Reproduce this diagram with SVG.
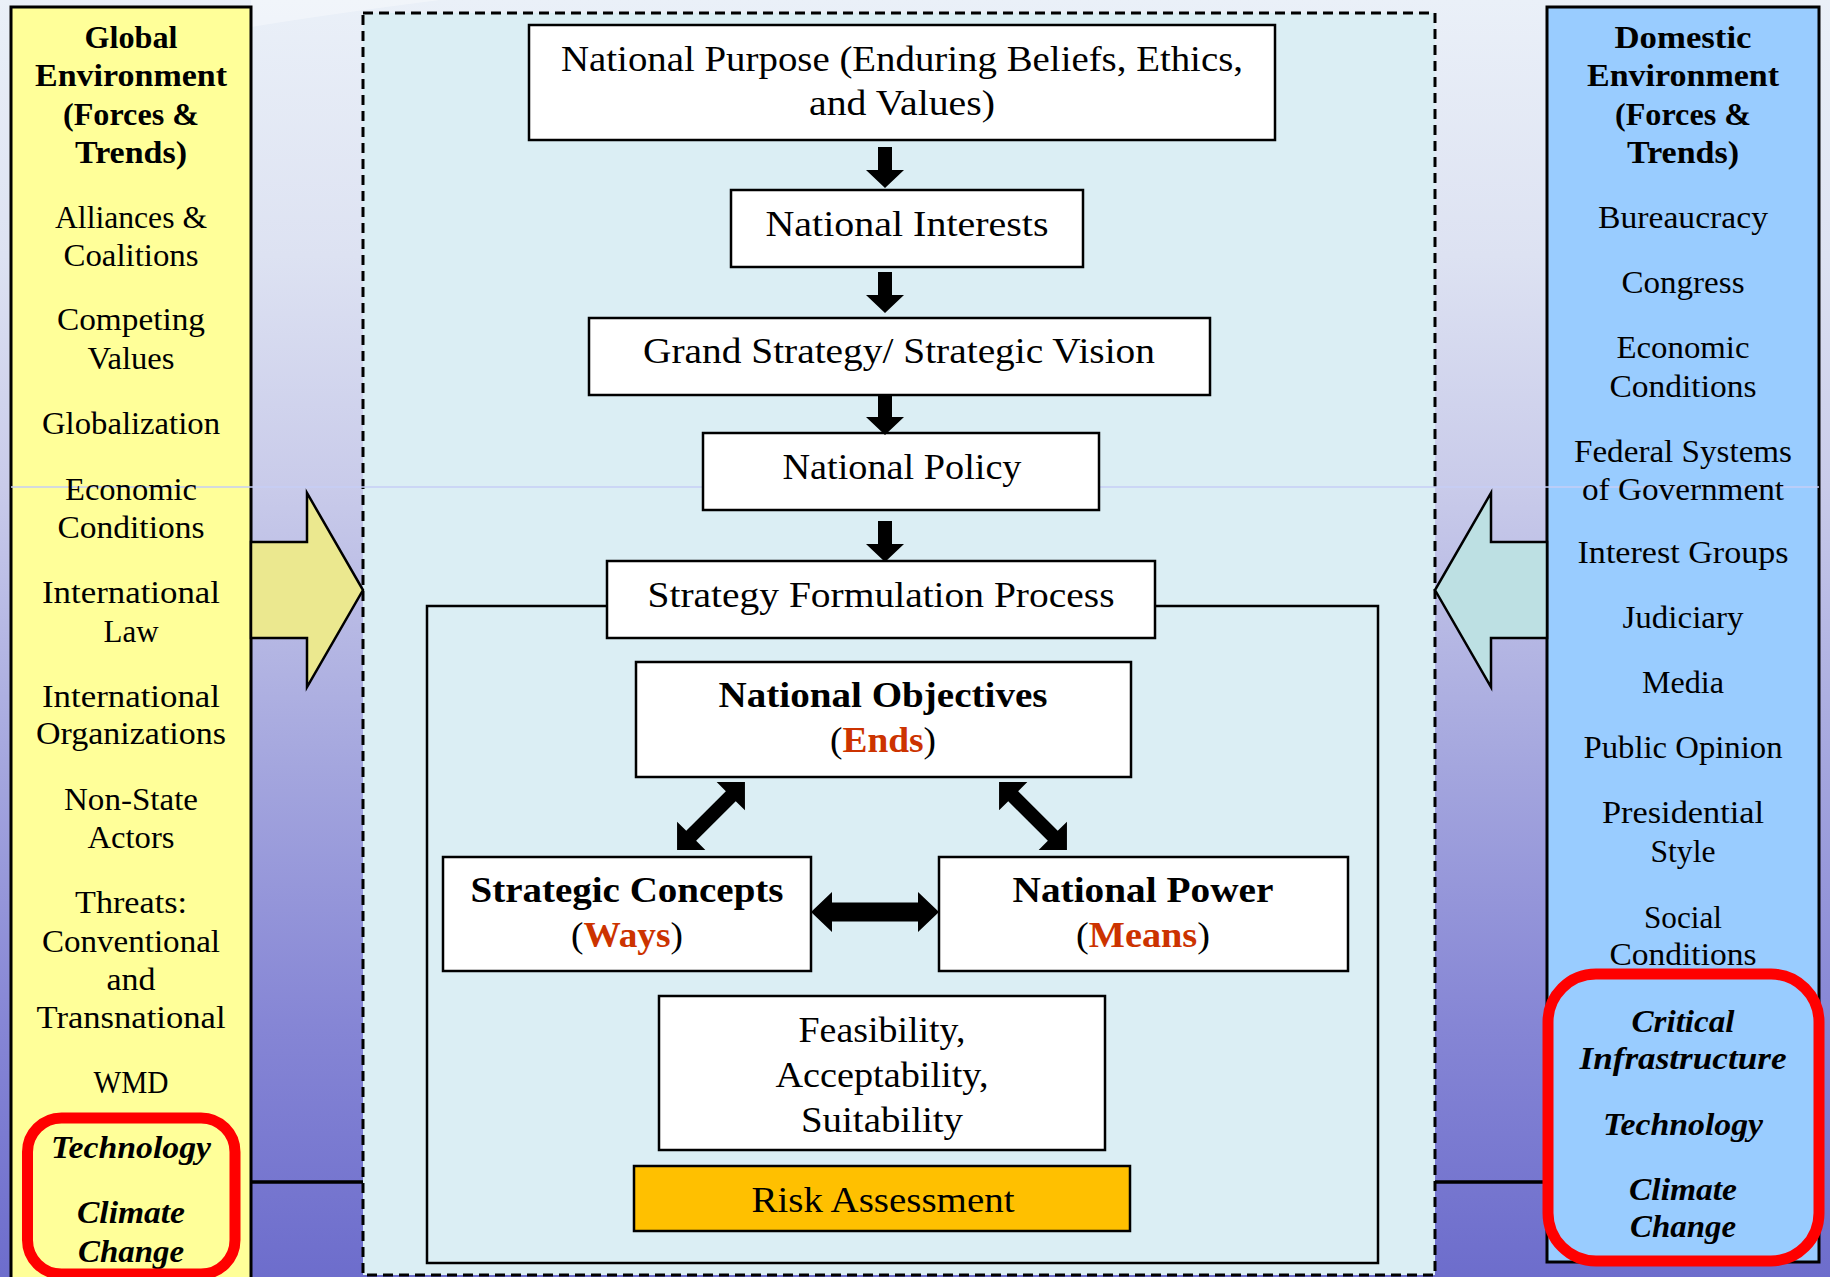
<svg xmlns="http://www.w3.org/2000/svg" width="1830" height="1277" viewBox="0 0 1830 1277">
<defs>
<linearGradient id="bg" x1="0" y1="0" x2="0" y2="1">
<stop offset="0" stop-color="#eaf0f8"/>
<stop offset="0.2" stop-color="#dde2f2"/>
<stop offset="0.38" stop-color="#c9cbea"/>
<stop offset="0.6" stop-color="#a4a6de"/>
<stop offset="0.8" stop-color="#8686d5"/>
<stop offset="1" stop-color="#6d6dcc"/>
</linearGradient>
<style>
.side{font-family:"Liberation Serif","DejaVu Serif",serif;font-size:32px;text-anchor:middle;fill:#000}
.hdr{font-weight:bold}
.hl{font-weight:bold;font-style:italic}
.ctr{font-family:"Liberation Serif","DejaVu Serif",serif;font-size:36px;text-anchor:middle;fill:#000}
.b{font-weight:bold}
.red{fill:#cc3300;font-weight:bold}
.box{fill:#fff;stroke:#000;stroke-width:2.5}
.blk{fill:#000}
.redbox{fill:none;stroke:#ff0000;stroke-width:11}
.panel{stroke:#000;stroke-width:3}
.big{stroke:#000;stroke-width:2.5;stroke-linejoin:miter}
</style>
</defs>

<rect x="0" y="0" width="1830" height="1277" fill="url(#bg)"/>
<path d="M251,27 Q330,14 440,0 L251,0 Z" fill="#ffffff" opacity="0.35"/>

<g id="center-frame">
<rect x="363" y="13" width="1072" height="1262" fill="#dbeef4" stroke="#000" stroke-width="3" stroke-dasharray="10,6"/>
</g>

<g id="global-env-panel">
<rect class="panel" x="11" y="7" width="240" height="1290" fill="#ffff99"/>
</g>
<g id="domestic-env-panel">
<rect class="panel" x="1547" y="7" width="272" height="1255" fill="#99ccff"/>
</g>

<line x1="11" y1="487" x2="1819" y2="487" stroke="#c6cef6" stroke-width="1.5"/>

<g id="connectors">
<polygon class="big" points="251,542 307,542 307,493 363,590 307,687 307,638 251,638" fill="#ebe88f"/>
<polygon class="big" points="1547,542 1491,542 1491,493 1435,590 1491,687 1491,638 1547,638" fill="#bde0e3"/>
<line x1="251" y1="1182" x2="363" y2="1182" stroke="#000" stroke-width="3.5"/>
<line x1="1435" y1="1182" x2="1545" y2="1182" stroke="#000" stroke-width="3.5"/>
</g>

<g id="strategy-frame">
<rect x="427" y="606" width="951" height="657" fill="none" stroke="#000" stroke-width="2.5"/>
</g>

<g id="national-purpose">
<rect class="box" x="529" y="25" width="746" height="115"/>
<text class="ctr" x="902" y="71" textLength="682" lengthAdjust="spacingAndGlyphs">National Purpose (Enduring Beliefs, Ethics,</text>
<text class="ctr" x="902" y="115" textLength="186" lengthAdjust="spacingAndGlyphs">and Values)</text>
</g>
<g id="national-interests">
<rect class="box" x="731" y="190" width="352" height="77"/>
<text class="ctr" x="907" y="236" textLength="283" lengthAdjust="spacingAndGlyphs">National Interests</text>
</g>
<g id="grand-strategy">
<rect class="box" x="589" y="318" width="621" height="77"/>
<text class="ctr" x="899" y="363" textLength="512" lengthAdjust="spacingAndGlyphs">Grand Strategy/ Strategic Vision</text>
</g>
<g id="national-policy">
<rect class="box" x="703" y="433" width="396" height="77"/>
<text class="ctr" x="902" y="479" textLength="239" lengthAdjust="spacingAndGlyphs">National Policy</text>
</g>
<g id="strategy-formulation">
<rect class="box" x="607" y="561" width="548" height="77"/>
<text class="ctr" x="881" y="607" textLength="467" lengthAdjust="spacingAndGlyphs">Strategy Formulation Process</text>
</g>
<g id="national-objectives">
<rect class="box" x="636" y="662" width="495" height="115"/>
<text class="ctr b" x="883" y="707" textLength="329" lengthAdjust="spacingAndGlyphs">National Objectives</text>
<text class="ctr" x="883" y="752" textLength="106" lengthAdjust="spacingAndGlyphs">(<tspan class="red">Ends</tspan>)</text>
</g>
<g id="strategic-concepts">
<rect class="box" x="443" y="857" width="368" height="114"/>
<text class="ctr b" x="627" y="902" textLength="313" lengthAdjust="spacingAndGlyphs">Strategic Concepts</text>
<text class="ctr" x="627" y="947" textLength="112" lengthAdjust="spacingAndGlyphs">(<tspan class="red">Ways</tspan>)</text>
</g>
<g id="national-power">
<rect class="box" x="939" y="857" width="409" height="114"/>
<text class="ctr b" x="1143" y="902" textLength="261" lengthAdjust="spacingAndGlyphs">National Power</text>
<text class="ctr" x="1143" y="947" textLength="134" lengthAdjust="spacingAndGlyphs">(<tspan class="red">Means</tspan>)</text>
</g>
<g id="feasibility">
<rect class="box" x="659" y="996" width="446" height="154"/>
<text class="ctr" x="882" y="1042" textLength="167" lengthAdjust="spacingAndGlyphs">Feasibility,</text>
<text class="ctr" x="882" y="1087" textLength="213" lengthAdjust="spacingAndGlyphs">Acceptability,</text>
<text class="ctr" x="882" y="1132" textLength="162" lengthAdjust="spacingAndGlyphs">Suitability</text>
</g>
<g id="risk-assessment">
<rect x="634" y="1166" width="496" height="65" fill="#ffc000" stroke="#000" stroke-width="2.5"/>
<text class="ctr" x="883" y="1212" textLength="263" lengthAdjust="spacingAndGlyphs">Risk Assessment</text>
</g>

<g id="flow-arrows">
<polygon class="blk" points="878,147 892,147 892,170 904,170 885,188 866,170 878,170"/>
<polygon class="blk" points="878,272 892,272 892,295 904,295 885,313 866,295 878,295"/>
<polygon class="blk" points="878,396 892,396 892,417 904,417 885,435 866,417 878,417"/>
<polygon class="blk" points="878,521 892,521 892,544 904,544 885,562 866,544 878,544"/>
<polygon class="blk" transform="translate(711,816) rotate(-45)" points="48,0 28,-20 28,-7 -28,-7 -28,-20 -48,0 -28,20 -28,7 28,7 28,20"/>
<polygon class="blk" transform="translate(1033,816) rotate(45)" points="48,0 28,-20 28,-7 -28,-7 -28,-20 -48,0 -28,20 -28,7 28,7 28,20"/>
<polygon class="blk" transform="translate(875,912)" points="64,0 43,-20 43,-9.5 -43,-9.5 -43,-20 -64,0 -43,20 -43,9.5 43,9.5 43,20"/>
</g>

<g id="global-env-text">
<text class="side hdr" x="131" y="48" textLength="93" lengthAdjust="spacingAndGlyphs">Global</text>
<text class="side hdr" x="131" y="86" textLength="192" lengthAdjust="spacingAndGlyphs">Environment</text>
<text class="side hdr" x="131" y="125" textLength="136" lengthAdjust="spacingAndGlyphs">(Forces &amp;</text>
<text class="side hdr" x="131" y="163" textLength="112" lengthAdjust="spacingAndGlyphs">Trends)</text>
<text class="side" x="131" y="228" textLength="152" lengthAdjust="spacingAndGlyphs">Alliances &amp;</text>
<text class="side" x="131" y="266" textLength="135" lengthAdjust="spacingAndGlyphs">Coalitions</text>
<text class="side" x="131" y="330" textLength="148" lengthAdjust="spacingAndGlyphs">Competing</text>
<text class="side" x="131" y="369" textLength="87" lengthAdjust="spacingAndGlyphs">Values</text>
<text class="side" x="131" y="434" textLength="178" lengthAdjust="spacingAndGlyphs">Globalization</text>
<text class="side" x="131" y="500" textLength="132" lengthAdjust="spacingAndGlyphs">Economic</text>
<text class="side" x="131" y="538" textLength="147" lengthAdjust="spacingAndGlyphs">Conditions</text>
<text class="side" x="131" y="603" textLength="178" lengthAdjust="spacingAndGlyphs">International</text>
<text class="side" x="131" y="642" textLength="55" lengthAdjust="spacingAndGlyphs">Law</text>
<text class="side" x="131" y="707" textLength="178" lengthAdjust="spacingAndGlyphs">International</text>
<text class="side" x="131" y="744" textLength="190" lengthAdjust="spacingAndGlyphs">Organizations</text>
<text class="side" x="131" y="810" textLength="134" lengthAdjust="spacingAndGlyphs">Non-State</text>
<text class="side" x="131" y="848" textLength="87" lengthAdjust="spacingAndGlyphs">Actors</text>
<text class="side" x="131" y="913" textLength="112" lengthAdjust="spacingAndGlyphs">Threats:</text>
<text class="side" x="131" y="952" textLength="178" lengthAdjust="spacingAndGlyphs">Conventional</text>
<text class="side" x="131" y="990" textLength="49" lengthAdjust="spacingAndGlyphs">and</text>
<text class="side" x="131" y="1028" textLength="189" lengthAdjust="spacingAndGlyphs">Transnational</text>
<text class="side" x="131" y="1093" textLength="75" lengthAdjust="spacingAndGlyphs">WMD</text>
<text class="side hl" x="131" y="1158" textLength="160" lengthAdjust="spacingAndGlyphs">Technology</text>
<text class="side hl" x="131" y="1223" textLength="108" lengthAdjust="spacingAndGlyphs">Climate</text>
<text class="side hl" x="131" y="1262" textLength="106" lengthAdjust="spacingAndGlyphs">Change</text>
<rect class="redbox" x="27.5" y="1118" width="207.5" height="156" rx="34"/>
</g>

<g id="domestic-env-text">
<text class="side hdr" x="1683" y="48" textLength="137" lengthAdjust="spacingAndGlyphs">Domestic</text>
<text class="side hdr" x="1683" y="86" textLength="192" lengthAdjust="spacingAndGlyphs">Environment</text>
<text class="side hdr" x="1683" y="125" textLength="136" lengthAdjust="spacingAndGlyphs">(Forces &amp;</text>
<text class="side hdr" x="1683" y="163" textLength="112" lengthAdjust="spacingAndGlyphs">Trends)</text>
<text class="side" x="1683" y="228" textLength="170" lengthAdjust="spacingAndGlyphs">Bureaucracy</text>
<text class="side" x="1683" y="293" textLength="123" lengthAdjust="spacingAndGlyphs">Congress</text>
<text class="side" x="1683" y="358" textLength="133" lengthAdjust="spacingAndGlyphs">Economic</text>
<text class="side" x="1683" y="397" textLength="147" lengthAdjust="spacingAndGlyphs">Conditions</text>
<text class="side" x="1683" y="462" textLength="218" lengthAdjust="spacingAndGlyphs">Federal Systems</text>
<text class="side" x="1683" y="500" textLength="202" lengthAdjust="spacingAndGlyphs">of Government</text>
<text class="side" x="1683" y="563" textLength="211" lengthAdjust="spacingAndGlyphs">Interest Groups</text>
<text class="side" x="1683" y="628" textLength="121" lengthAdjust="spacingAndGlyphs">Judiciary</text>
<text class="side" x="1683" y="693" textLength="82" lengthAdjust="spacingAndGlyphs">Media</text>
<text class="side" x="1683" y="758" textLength="199" lengthAdjust="spacingAndGlyphs">Public Opinion</text>
<text class="side" x="1683" y="823" textLength="162" lengthAdjust="spacingAndGlyphs">Presidential</text>
<text class="side" x="1683" y="862" textLength="65" lengthAdjust="spacingAndGlyphs">Style</text>
<text class="side" x="1683" y="928" textLength="78" lengthAdjust="spacingAndGlyphs">Social</text>
<text class="side" x="1683" y="965" textLength="147" lengthAdjust="spacingAndGlyphs">Conditions</text>
<text class="side hl" x="1683" y="1032" textLength="103" lengthAdjust="spacingAndGlyphs">Critical</text>
<text class="side hl" x="1683" y="1069" textLength="207" lengthAdjust="spacingAndGlyphs">Infrastructure</text>
<text class="side hl" x="1683" y="1135" textLength="160" lengthAdjust="spacingAndGlyphs">Technology</text>
<text class="side hl" x="1683" y="1200" textLength="108" lengthAdjust="spacingAndGlyphs">Climate</text>
<text class="side hl" x="1683" y="1237" textLength="106" lengthAdjust="spacingAndGlyphs">Change</text>
<rect class="redbox" x="1548" y="974" width="271" height="287" rx="48"/>
</g>
</svg>
